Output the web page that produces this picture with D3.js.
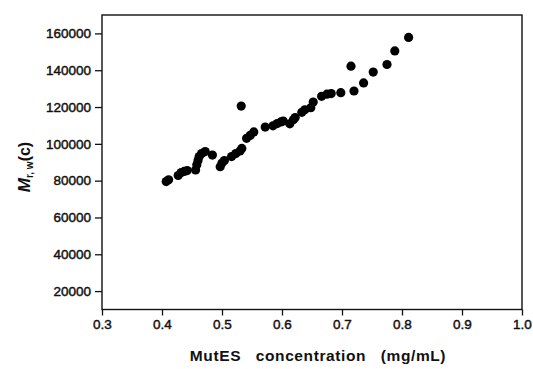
<!DOCTYPE html>
<html><head><meta charset="utf-8">
<script src="https://cdn.jsdelivr.net/npm/d3@7"></script>
<style>
html,body{margin:0;padding:0;background:#fff;}
svg{display:block;font-family:"Liberation Sans",Arial,sans-serif;}
</style></head>
<body>
<svg id="chart" width="533" height="369"></svg>
<script>
// MutES concentration (mg/mL)
const concentration = [0.407,0.411,0.427,0.432,0.437,0.442,0.456,0.458,0.460,0.462,0.466,0.472,0.484,
  0.497,0.500,0.504,0.516,0.523,0.530,0.533,0.532,0.541,0.547,0.553,0.572,0.585,0.592,0.598,0.602,
  0.613,0.619,0.622,0.633,0.638,0.648,0.652,0.666,0.675,0.682,0.698,0.715,0.720,0.736,0.752,0.775,0.788,0.811];
// Mr,w(c)
const molarMass = [79500,80500,82800,84400,85000,85500,85800,88700,90900,93100,94700,95800,93900,
  87600,89600,90900,93100,94700,96100,97500,120500,103000,104600,106500,109100,109800,111000,111900,112400,
  110900,113100,114300,117100,118500,119600,122700,125800,127000,127300,127800,142200,128700,133100,139000,143100,150500,157800];
const xTicks = [0.3,0.4,0.5,0.6,0.7,0.8,0.9,1.0];
const yTicks = [20000,40000,60000,80000,100000,120000,140000,160000];

const svg = d3.select("#chart");
const x = d3.scaleLinear().domain([0.3,1.0]).range([102,522]);
const y = d3.scaleLinear().domain([10000,170000]).range([309.5,15]);

// frame
svg.append("rect").attr("x",102).attr("y",15).attr("width",420).attr("height",294.5)
  .attr("fill","none").attr("stroke","#111").attr("stroke-width",1.4);

// y axis
const yAx = svg.append("g").attr("transform","translate(102,0)");
yAx.call(d3.axisLeft(y).tickValues(d3.range(20000,170001,10000)).tickSize(4).tickFormat(""))
  .call(g=>g.select(".domain").remove());
yAx.call(d3.axisLeft(y).tickValues(yTicks).tickSize(7).tickPadding(4).tickFormat(d3.format("d")))
  .call(g=>g.select(".domain").remove());
yAx.selectAll("line").attr("stroke","#111").attr("stroke-width",1.3);
yAx.selectAll("text").attr("font-size","13.5px").attr("fill","#111").attr("stroke","#111").attr("stroke-width",0.45)
  .attr("font-family","Liberation Sans, Arial, sans-serif");

// x axis
const xAx = svg.append("g").attr("transform","translate(0,309.5)");
xAx.call(d3.axisBottom(x).tickValues(d3.range(0.35,1.0,0.1)).tickSize(4).tickFormat(""))
  .call(g=>g.select(".domain").remove());
xAx.call(d3.axisBottom(x).tickValues(xTicks).tickSize(6).tickPadding(4).tickFormat(d3.format(".1f")))
  .call(g=>g.select(".domain").remove());
xAx.selectAll("line").attr("stroke","#111").attr("stroke-width",1.3);
xAx.selectAll("text").attr("font-size","13.5px").attr("fill","#111").attr("stroke","#111").attr("stroke-width",0.45)
  .attr("font-family","Liberation Sans, Arial, sans-serif");

// points
svg.append("g").selectAll("circle").data(concentration.map((c,i)=>[c,molarMass[i]]))
  .join("circle").attr("cx",d=>x(d[0])).attr("cy",d=>y(d[1])).attr("r",4.6).attr("fill","#000");

// axis titles
svg.append("text").attr("x",318).attr("y",361).attr("text-anchor","middle")
  .attr("font-size","15.5px").attr("font-weight","bold").attr("fill","#111").attr("letter-spacing","0.6px")
  .style("white-space","pre").text("MutES   concentration   (mg/mL)");

const yl = svg.append("text").attr("transform","translate(30,167) rotate(-90)").attr("text-anchor","middle")
  .attr("font-weight","bold").attr("fill","#111").attr("font-size","16px");
yl.append("tspan").attr("font-style","italic").attr("font-size","17px").text("M");
yl.append("tspan").attr("font-size","10px").attr("dy","3").text("r, w");
yl.append("tspan").attr("dy","-3").text("(c)");
</script>
</body></html>
